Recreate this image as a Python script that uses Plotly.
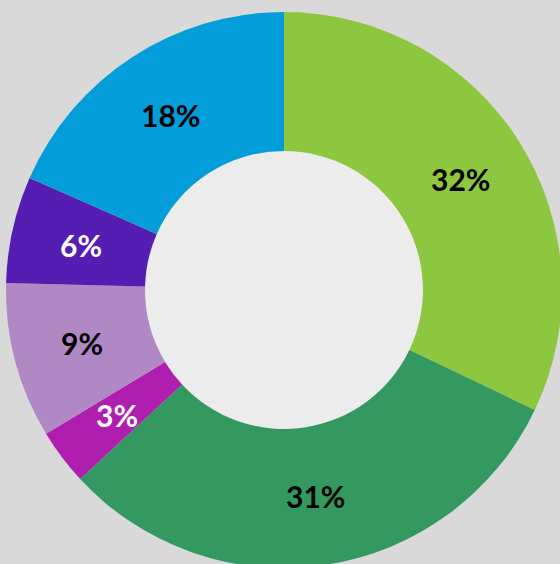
import math
import plotly.graph_objects as go

labels = ["A", "B", "C", "D", "E", "F"]
values = [32.1, 31.0, 3.25, 9.05, 6.2, 18.4]
colors = ["#8DC63F", "#339960", "#B01EB0", "#B088C4", "#561DB3", "#039ED9"]
text_colors = ["#000000", "#000000", "#ffffff", "#000000", "#ffffff", "#000000"]

W, H = 570, 580
cx, cy, r = 284, 290, 278  # pixel geometry from top-left
hole = 0.5

fig = go.Figure(go.Pie(
    labels=labels,
    values=values,
    sort=False,
    direction="clockwise",
    rotation=0,
    hole=hole,
    marker=dict(colors=colors, line=dict(width=0)),
    textinfo="none",
    hoverinfo="label+percent",
    showlegend=False,
    domain=dict(x=[(cx - r) / W, (cx + r) / W], y=[(H - cy - r) / H, (H - cy + r) / H]),
))

# percentage labels at the middle of each ring segment
total = sum(values)
annotations = []
cum = 0.0
rm = r * (1 + hole) / 2
for v, tc in zip(values, text_colors):
    mid = (cum + v / 2) / total * 2 * math.pi
    cum += v
    px = cx + rm * math.sin(mid)
    py = cy - rm * math.cos(mid)
    annotations.append(dict(
        x=px / W, y=(H - py) / H, xref="paper", yref="paper",
        text=f"{round(v / total * 100)}%", showarrow=False,
        xanchor="center", yanchor="middle",
        font=dict(family="Lato", size=30, color=tc, weight="bold"),
    ))

fig.update_layout(
    width=W, height=H,
    margin=dict(l=0, r=0, t=0, b=0),
    paper_bgcolor="#d9d9d9",
    annotations=annotations,
    shapes=[dict(type="circle", xref="paper", yref="paper", layer="below",
                 x0=(cx - r * hole) / W, x1=(cx + r * hole) / W,
                 y0=(H - cy - r * hole) / H, y1=(H - cy + r * hole) / H,
                 fillcolor="#ececec", line=dict(width=0))],
)

fig.write_html(
    "out.html",
    config={"displayModeBar": False},
    post_script="document.body.style.margin='0';document.body.style.overflow='hidden';"
                "document.documentElement.style.overflow='hidden';",
)
